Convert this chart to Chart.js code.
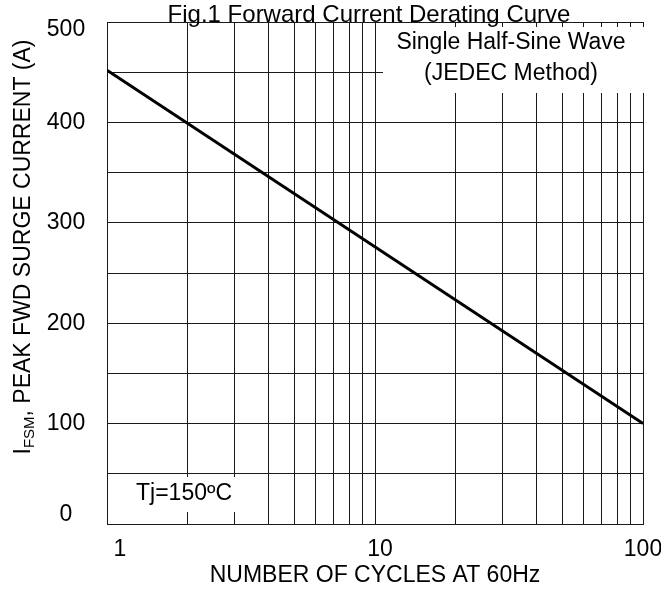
<!DOCTYPE html>
<html>
<head>
<meta charset="utf-8">
<script src="https://cdn.jsdelivr.net/npm/chart.js@4.4.1/dist/chart.umd.min.js"></script>
<style>
  body { margin: 0; background: #fff; }
  #wrap { width: 661px; height: 592px; }
</style>
</head>
<body>
<div id="wrap"><canvas id="chart" width="661" height="592"></canvas></div>
<script>
// Datos
const cycles = [1, 100];
const surgeCurrent = [452, 100];
const xGridValues = [1, 2, 3, 4, 5, 6, 7, 8, 9, 10, 20, 30, 40, 50, 60, 70, 80, 90, 100];
const xTickLabels = [1, 10, 100];
const yTickLabels = [0, 100, 200, 300, 400, 500];

const FONT = "'Liberation Sans', Arial, sans-serif";
const GRID = "#1a1a1a";

// Textos y recuadros dibujados encima del grafico
const textPlugin = {
  id: "textos",
  afterDraw(chart) {
    const ctx = chart.ctx;
    const area = chart.chartArea;
    const xs = chart.scales.x;
    const ys = chart.scales.y;
    ctx.save();
    ctx.fillStyle = "#000";
    ctx.textAlign = "center";
    ctx.textBaseline = "middle";
    ctx.font = "23px " + FONT;

    // etiquetas eje x
    xTickLabels.forEach(v => {
      let px = xs.getPixelForValue(v) + 5;
      px = Math.min(Math.max(px, area.left + 13), area.right);
      ctx.fillText(String(v), px, 550);
    });

    // etiquetas eje y
    yTickLabels.forEach(v => {
      let py = ys.getPixelForValue(v);
      py = Math.min(Math.max(py, area.top + 8), area.bottom - 9);
      ctx.fillText(String(v), 66, py);
    });

    // titulo eje x
    ctx.fillText("NUMBER OF CYCLES AT 60Hz", 375, 576);

    // titulo eje y con subindice
    ctx.save();
    ctx.translate(22, 247);
    ctx.rotate(-Math.PI / 2);
    const big = "23px " + FONT, small = "15px " + FONT;
    ctx.font = big;
    const wI = ctx.measureText("I").width;
    const wRest = ctx.measureText(", PEAK FWD SURGE CURRENT (A)").width;
    ctx.font = small;
    const wSub = ctx.measureText("FSM").width;
    let x0 = -(wI + wSub + wRest) / 2;
    ctx.textAlign = "left";
    ctx.textBaseline = "alphabetic";
    ctx.font = big;
    ctx.fillText("I", x0, 8);
    ctx.font = small;
    ctx.fillText("FSM", x0 + wI, 12);
    ctx.font = big;
    ctx.fillText(", PEAK FWD SURGE CURRENT (A)", x0 + wI + wSub, 8);
    ctx.restore();

    // recuadro superior derecho
    ctx.fillStyle = "#fff";
    ctx.fillRect(383, 27, 278, 66);
    ctx.fillStyle = "#000";
    ctx.font = "23px " + FONT;
    ctx.fillText("Single Half-Sine Wave", 511, 43);
    ctx.fillText("(JEDEC Method)", 511, 74);

    // recuadro temperatura
    ctx.fillStyle = "#fff";
    ctx.fillRect(108, 477, 142, 35);
    ctx.fillStyle = "#000";
    ctx.fillText("Tj=150\u00BAC", 184, 494);

    // titulo
    ctx.font = "24px " + FONT;
    ctx.fillText("Fig.1 Forward Current Derating Curve", 369, 15);
    ctx.restore();
  }
};

const ctx = document.getElementById("chart");
new Chart(ctx, {
  type: "line",
  data: {
    datasets: [{
      data: cycles.map((c, i) => ({ x: c, y: surgeCurrent[i] })),
      borderColor: "#000",
      borderWidth: 3,
      pointRadius: 0,
      fill: false,
      tension: 0
    }]
  },
  options: {
    responsive: false,
    animation: false,
    layout: { padding: { left: 107, top: 22, right: 18, bottom: 68 } },
    plugins: { legend: { display: false }, tooltip: { enabled: false } },
    scales: {
      x: {
        type: "logarithmic",
        min: 1,
        max: 100,
        afterBuildTicks: scale => { scale.ticks = xGridValues.map(v => ({ value: v })); },
        ticks: { display: false, autoSkip: false },
        grid: { color: GRID, lineWidth: 1, drawTicks: false },
        border: { display: true, color: GRID, width: 1 }
      },
      y: {
        min: 0,
        max: 500,
        ticks: { display: false, stepSize: 50 },
        grid: { color: GRID, lineWidth: 1, drawTicks: false },
        border: { display: true, color: GRID, width: 1 }
      }
    }
  },
  plugins: [textPlugin]
});
</script>
</body>
</html>
